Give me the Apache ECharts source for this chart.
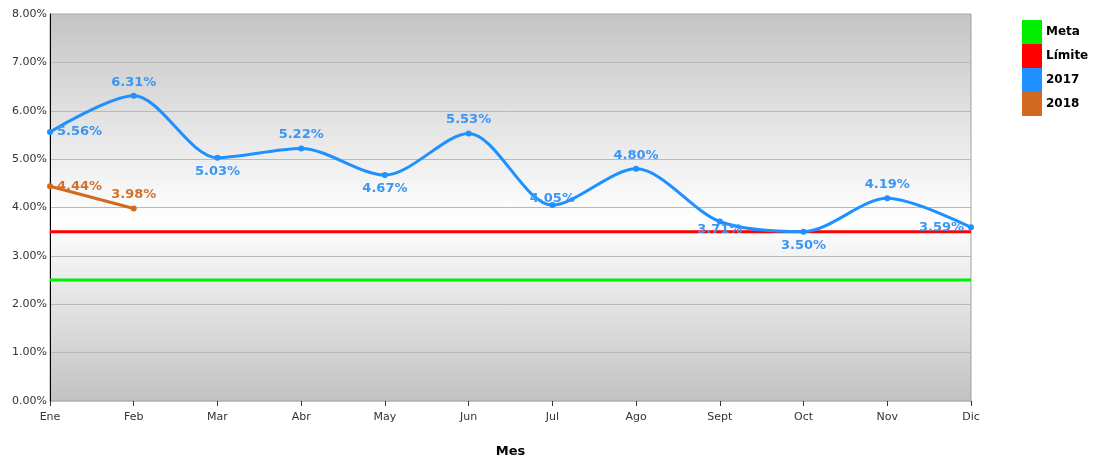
<!DOCTYPE html>
<html>
<head>
<meta charset="utf-8">
<script src="https://cdn.jsdelivr.net/npm/echarts@6/dist/echarts.min.js"></script>
<style>
  html, body { margin: 0; padding: 0; background: #fff; }
  #main { width: 1098px; height: 460px; }
</style>
</head>
<body>
<div id="main"></div>
<script>
// datos
var meses = ['Ene', 'Feb', 'Mar', 'Abr', 'May', 'Jun', 'Jul', 'Ago', 'Sept', 'Oct', 'Nov', 'Dic']
var meta = [2.5, 2.5, 2.5, 2.5, 2.5, 2.5, 2.5, 2.5, 2.5, 2.5, 2.5, 2.5]
var limite = [3.5, 3.5, 3.5, 3.5, 3.5, 3.5, 3.5, 3.5, 3.5, 3.5, 3.5, 3.5]
var v2017 = [5.56, 6.31, 5.03, 5.22, 4.67, 5.53, 4.05, 4.80, 3.71, 3.50, 4.19, 3.59]
var v2018 = [4.44, 3.98]

// posicion de etiquetas
var pos2017 = ['right', 'top', 'bottom', 'top', 'bottom', 'top', 'top', 'top', 'bottom', 'bottom', 'top', 'left']
var dist2017 = [4, 4, 4, 4, 4, 4, -3, 4, -1, 4, 4, 4]
var pos2018 = ['right', 'top']

var fmt = function (p) { return p.value.toFixed(2) + '%' }

function conEtiquetas(vals, pos, dist) {
  return vals.map(function (v, i) {
    return { value: v, label: { position: pos[i], distance: dist ? dist[i] : 4 } }
  })
}

var myChart = echarts.init(document.getElementById('main'))
myChart.setOption({
  animation: false,
  textStyle: { fontFamily: 'DejaVu Sans' },
  grid: {
    left: 50,
    right: 127,
    top: 14,
    bottom: 59,
    outerBoundsMode: 'none',
    containLabel: false,
    show: true,
    borderColor: '#a0a0a0',
    borderWidth: 1,
    backgroundColor: new echarts.graphic.LinearGradient(0, 0, 0, 1, [
      { offset: 0, color: '#c4c4c4' },
      { offset: 0.53, color: '#ffffff' },
      { offset: 1, color: '#c2c2c2' }
    ])
  },
  legend: {
    orient: 'vertical',
    left: 1017,
    top: 15,
    itemWidth: 20,
    itemHeight: 24,
    itemGap: 0,
    icon: 'rect',
    textStyle: { fontWeight: 'bold', fontSize: 12, color: '#000', padding: [0, 0, 0, -1] },
    data: ['Meta', 'Límite', '2017', '2018']
  },
  xAxis: {
    type: 'category',
    data: meses,
    boundaryGap: false,
    name: 'Mes',
    nameLocation: 'middle',
    nameGap: 44,
    nameTextStyle: { fontWeight: 'bold', fontSize: 13, color: '#000' },
    axisLine: { lineStyle: { color: '#c2c2c2' } },
    axisTick: { show: true, length: 5, lineStyle: { color: '#333' } },
    axisLabel: { color: '#333', fontSize: 11, margin: 11 }
  },
  yAxis: {
    type: 'value',
    min: 0,
    max: 8,
    interval: 1,
    axisLine: { show: true, lineStyle: { color: '#000' } },
    axisTick: { show: false },
    axisLabel: { color: '#333', fontSize: 11, margin: 3, formatter: function (v) { return v.toFixed(2) + '%' } },
    splitLine: { lineStyle: { color: '#b8b8b8' } }
  },
  series: [
    {
      name: 'Meta',
      type: 'line',
      data: meta,
      symbol: 'none',
      itemStyle: { color: '#00ee00' },
      lineStyle: { width: 3 },
      z: 2
    },
    {
      name: 'Límite',
      type: 'line',
      data: limite,
      symbol: 'none',
      itemStyle: { color: '#ff0000' },
      lineStyle: { width: 3 },
      z: 2
    },
    {
      name: '2017',
      type: 'line',
      data: conEtiquetas(v2017, pos2017, dist2017),
      smooth: 0.3,
      symbol: 'circle',
      symbolSize: 6,
      itemStyle: { color: '#1e90ff' },
      lineStyle: { width: 3 },
      label: { show: true, formatter: fmt, fontWeight: 'bold', fontSize: 13, color: '#3a96f5' },
      z: 3
    },
    {
      name: '2018',
      type: 'line',
      data: conEtiquetas(v2018, pos2018),
      symbol: 'circle',
      symbolSize: 6,
      itemStyle: { color: '#d2691e' },
      lineStyle: { width: 3 },
      label: { show: true, formatter: fmt, fontWeight: 'bold', fontSize: 13, color: '#d5702a' },
      z: 3
    }
  ]
})
</script>
</body>
</html>
